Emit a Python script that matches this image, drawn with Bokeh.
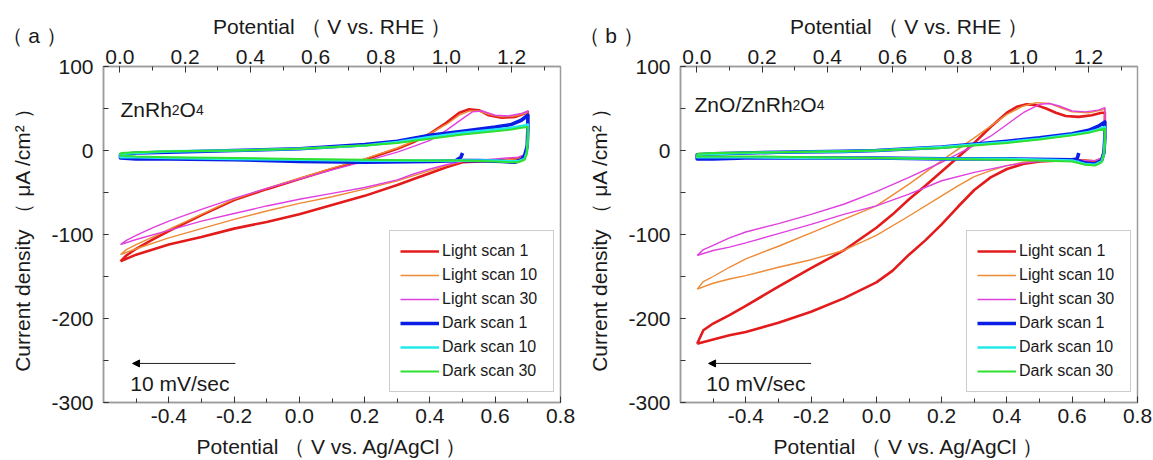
from bokeh.plotting import figure
from bokeh.models import (Range1d, LinearAxis, SingleIntervalTicker, PrintfTickFormatter,
                          Legend, LegendItem, Label, Arrow, NormalHead)
from bokeh.layouts import row
from bokeh.embed import file_html
from bokeh.resources import INLINE

# ---------------- data ----------------
SERIES = ["Light scan 1", "Light scan 10", "Light scan 30",
          "Dark scan 1", "Dark scan 10", "Dark scan 30"]

X_TICK_LABELS_AGCL = [-0.6, -0.4, -0.2, 0.0, 0.2, 0.4, 0.6, 0.8]
X_TICK_LABELS_RHE = [0.0, 0.2, 0.4, 0.6, 0.8, 1.0, 1.2]
Y_TICK_LABELS = [-300, -200, -100, 0, 100]

# ----- panel (a) ZnRh2O4 -----
a_l1_x = [-0.548, -0.53, -0.50, -0.45, -0.40, -0.30, -0.20, -0.10, 0.00, 0.10, 0.20, 0.30, 0.35, 0.40, 0.45,
          0.49, 0.52, 0.55, 0.58, 0.62, 0.66, 0.69, 0.70,
          0.700, 0.698, 0.69, 0.67, 0.60, 0.50, 0.45, 0.40, 0.35, 0.30, 0.20, 0.10, 0.00, -0.10, -0.20,
          -0.30, -0.40, -0.50, -0.548]
a_l1_y = [-132, -125, -117, -106, -96, -77, -59, -46, -34, -22, -11, 2, 10, 20, 33, 45, 49, 48, 42, 39, 40, 44, 46,
          30, 5, -6, -10, -12, -14, -20, -27, -34, -41, -54, -65, -76, -85, -93, -103, -112, -124, -132]

a_l10_x = [-0.548, -0.53, -0.50, -0.45, -0.40, -0.30, -0.20, -0.10, 0.00, 0.10, 0.20, 0.30, 0.35, 0.40, 0.45,
           0.49, 0.52, 0.55, 0.58, 0.62, 0.66, 0.69, 0.70,
           0.700, 0.698, 0.69, 0.67, 0.60, 0.50, 0.45, 0.40, 0.35, 0.30, 0.20, 0.10, 0.00, -0.10, -0.20,
           -0.30, -0.40, -0.50, -0.548]
a_l10_y = [-124, -118, -112, -103, -94, -76, -58, -45, -33, -21, -10, 3, 11, 20, 31, 42, 47, 47, 43, 40, 41, 44, 45,
           28, 3, -7, -10, -12, -13, -18, -24, -30, -36, -46, -55, -63, -72, -82, -93, -104, -117, -124]

a_l30_x = [-0.548, -0.53, -0.50, -0.45, -0.40, -0.30, -0.20, -0.10, 0.00, 0.10, 0.20, 0.30, 0.35, 0.40, 0.45,
           0.50, 0.53, 0.56, 0.60, 0.64, 0.68, 0.70,
           0.700, 0.698, 0.69, 0.67, 0.60, 0.50, 0.45, 0.40, 0.35, 0.30, 0.20, 0.10, 0.00, -0.10, -0.20,
           -0.30, -0.40, -0.50, -0.548]
a_l30_y = [-112, -107, -101, -92, -84, -70, -57, -45, -34, -23, -13, -2, 5, 12, 24, 38, 46, 47, 42, 41, 44, 47,
           30, 5, -5, -8, -10, -13, -17, -22, -28, -35, -44, -51, -58, -66, -75, -84, -95, -106, -112]

a_d1_x = [0.500, 0.495, 0.48, 0.40, 0.20, 0.00, -0.20, -0.40, -0.50, -0.548,
          -0.548, -0.50, -0.40, -0.20, 0.00, 0.20, 0.30, 0.40, 0.50, 0.60, 0.65, 0.68, 0.70,
          0.700, 0.698, 0.69, 0.68, 0.66, 0.62, 0.55, 0.50]
a_d1_y = [-3, -8, -12, -13, -14, -13, -11, -10, -10, -9,
          -5, -3, -2, 0, 2, 7, 11, 18, 23, 28, 31, 36, 42,
          25, 5, -6, -11, -14, -13, -12, -12]

a_d10_x = [-0.548, -0.50, -0.40, -0.20, 0.00, 0.20, 0.30, 0.40, 0.50, 0.60, 0.65, 0.68, 0.70,
           0.700, 0.697, 0.69, 0.67, 0.64, 0.60, 0.50, 0.40, 0.20, 0.00, -0.20, -0.40, -0.50, -0.548, -0.548]
a_d10_y = [-4, -3, -1, 0, 2, 6, 10, 16, 21, 25, 27, 29, 31,
           15, -2, -10, -13, -13, -12, -12, -12, -12, -11, -10, -9, -8, -8, -4]

a_d30_x = [-0.548, -0.50, -0.40, -0.20, 0.00, 0.20, 0.30, 0.40, 0.50, 0.60, 0.65, 0.68, 0.70,
           0.700, 0.697, 0.69, 0.67, 0.64, 0.60, 0.50, 0.40, 0.20, 0.00, -0.20, -0.40, -0.50, -0.548, -0.548]
a_d30_y = [-3, -2, -1, 0, 2, 6, 9, 14, 19, 23, 25, 27, 28,
           12, -4, -11, -14, -14, -13, -12, -12, -11, -10, -9, -8, -7, -6, -3]

# ----- panel (b) ZnO/ZnRh2O4 -----
b_l1_x = [-0.549, -0.53, -0.50, -0.45, -0.40, -0.30, -0.20, -0.10, 0.00, 0.05, 0.10, 0.15, 0.20, 0.25, 0.30,
          0.35, 0.40, 0.43, 0.46, 0.49, 0.52, 0.55, 0.58, 0.62, 0.66, 0.69, 0.70,
          0.700, 0.698, 0.69, 0.67, 0.64, 0.60, 0.55, 0.50, 0.45, 0.40, 0.35, 0.30, 0.25, 0.20, 0.15, 0.10,
          0.05, 0.00, -0.10, -0.20, -0.30, -0.40, -0.45, -0.50, -0.549]
b_l1_y = [-230, -214, -206, -196, -185, -162, -140, -119, -92, -76, -58, -42, -25, -8, 9,
          28, 45, 52, 55, 54, 50, 45, 41, 40, 42, 45, 45,
          30, 0, -10, -13, -12, -12, -12, -13, -16, -22, -32, -47, -67, -88, -107, -124,
          -143, -157, -176, -192, -205, -216, -220, -225, -230]

b_l10_x = [-0.549, -0.53, -0.50, -0.45, -0.40, -0.30, -0.20, -0.10, 0.00, 0.10, 0.20, 0.30, 0.35, 0.40, 0.45,
           0.49, 0.53, 0.57, 0.60, 0.65, 0.70,
           0.700, 0.698, 0.69, 0.67, 0.60, 0.50, 0.45, 0.40, 0.35, 0.30, 0.25, 0.20, 0.10, 0.00, -0.10,
           -0.20, -0.30, -0.40, -0.45, -0.50, -0.549]
b_l10_y = [-165, -156, -150, -139, -129, -114, -98, -82, -66, -40, -12, 15, 29, 43, 53, 57, 56, 50, 46, 45, 49,
           30, 0, -9, -12, -12, -12, -14, -18, -24, -31, -42, -54, -78, -101, -119,
           -130, -139, -149, -153, -158, -165]

b_l30_x = [-0.549, -0.53, -0.50, -0.45, -0.40, -0.30, -0.20, -0.10, 0.00, 0.10, 0.20, 0.30, 0.35, 0.40, 0.45,
           0.50, 0.53, 0.56, 0.60, 0.64, 0.68, 0.70,
           0.700, 0.698, 0.69, 0.67, 0.60, 0.50, 0.45, 0.40, 0.30, 0.20, 0.10, 0.00, -0.10, -0.20, -0.30,
           -0.40, -0.45, -0.50, -0.549]
b_l30_y = [-125, -118, -113, -104, -97, -87, -76, -64, -49, -32, -14, 6, 17, 31, 45, 55, 56, 53, 47, 46, 48, 51,
           30, 0, -9, -12, -12, -13, -15, -18, -26, -36, -52, -66, -76, -88, -99, -110, -115, -119, -125]

b_d1_x = [0.620, 0.615, 0.60, 0.40, 0.20, 0.00, -0.20, -0.40, -0.50, -0.549,
          -0.549, -0.50, -0.30, -0.10, 0.00, 0.20, 0.40, 0.50, 0.60, 0.65, 0.68, 0.70,
          0.700, 0.697, 0.69, 0.67, 0.64, 0.62]
b_d1_y = [-3, -10, -11, -10, -10, -9, -9, -9, -10, -10,
          -5, -4, -2, -1, 0, 4, 11, 15, 20, 24, 29, 34,
          15, -3, -12, -16, -15, -12]

b_d10_x = [-0.549, -0.50, -0.30, -0.10, 0.00, 0.20, 0.40, 0.50, 0.60, 0.65, 0.68, 0.70,
           0.700, 0.697, 0.69, 0.67, 0.64, 0.60, 0.40, 0.20, 0.00, -0.20, -0.40, -0.50, -0.549, -0.549]
b_d10_y = [-5, -4, -2, -1, 0, 4, 10, 14, 19, 22, 25, 28,
           12, -4, -13, -17, -16, -12, -10, -10, -9, -9, -8, -8, -8, -5]

b_d30_x = [-0.549, -0.50, -0.30, -0.10, 0.00, 0.20, 0.40, 0.50, 0.60, 0.65, 0.68, 0.70,
           0.700, 0.697, 0.69, 0.67, 0.64, 0.60, 0.40, 0.20, 0.00, -0.20, -0.40, -0.50, -0.549, -0.549]
b_d30_y = [-4, -3, -2, -1, 0, 3, 9, 13, 18, 21, 24, 26,
           10, -5, -14, -18, -17, -13, -11, -10, -9, -8, -7, -7, -7, -4]

# ---------------- style ----------------
COLORS = ["#e31b1b", "#ef8a34", "#e040e0", "#0a1ee6", "#22eaea", "#30e030"]
WIDTHS = [2.6, 1.4, 1.4, 3.6, 2.6, 2.0]
FONT = "Liberation Sans"
FRAME_GRAY = "#9c9c9c"
TICK = "#333333"
TXT = "#1a1a1a"
RHE_OFFSET = 0.55
X0, X1, Y0, Y1 = -0.6, 0.8, -300, 100
PPX = 457 / 1.4      # frame pixels per volt
PPY = 336 / 400.0    # frame pixels per uA/cm2


def style_axis(ax, interval, fmt, tick_in, minor_in, std, lstd):
    ax.ticker = SingleIntervalTicker(interval=interval, num_minor_ticks=2)
    ax.formatter = PrintfTickFormatter(format=fmt)
    ax.major_tick_in = tick_in
    ax.major_tick_out = 0
    ax.minor_tick_in = minor_in
    ax.minor_tick_out = 0
    ax.major_tick_line_color = TICK
    ax.minor_tick_line_color = TICK
    ax.axis_line_color = FRAME_GRAY
    ax.axis_line_width = 1.5
    ax.major_label_text_font = FONT
    ax.major_label_text_font_size = "21px"
    ax.major_label_text_color = TXT
    ax.major_label_standoff = std
    ax.axis_label_text_font = FONT
    ax.axis_label_text_font_size = "21px"
    ax.axis_label_text_font_style = "normal"
    ax.axis_label_text_color = TXT
    ax.axis_label_standoff = lstd


ADV = {"Z": .611, "n": .556, "R": .722, "h": .556, "O": .778, "/": .278, "2": .556, "4": .556}


def piece_width(s, size):
    return sum(ADV.get(ch, .556) for ch in s) * size


def build(curves, tag, formula_main, formula_x, formula_y, arrow_x0, arrow_x1, speed_x, width, bright):
    p = figure(width=width, height=460, output_backend="svg", toolbar_location=None,
               x_range=Range1d(X0, X1), y_range=Range1d(Y0, Y1),
               min_border_left=103, min_border_right=bright, min_border_top=66, min_border_bottom=58,
               x_axis_label="Potential （ V vs. Ag/AgCl ）",
               y_axis_label="Current density （ μA /cm² ）")
    p.grid.visible = False
    p.outline_line_color = FRAME_GRAY
    p.outline_line_width = 1.5
    p.background_fill_color = "white"
    p.border_fill_color = "white"

    style_axis(p.xaxis[0], 0.2, "%.1f", 6, 4, 6, 9)
    style_axis(p.yaxis[0], 100, "%d", 5, 5, 10, 14)

    p.extra_x_ranges = {"rhe": Range1d(X0 + RHE_OFFSET, X1 + RHE_OFFSET)}
    top = LinearAxis(x_range_name="rhe")
    style_axis(top, 0.2, "%.1f", 6, 4, 3, 0)
    p.add_layout(top, "above")

    # top-axis title and panel tag live in the top side panel (not clipped by the frame)
    p.add_layout(Label(x=(X0 + X1) / 2, y=Y1 + (66 - 26) / PPY, text="Potential （ V vs. RHE ）",
                       text_font=FONT, text_font_size="21px", text_color=TXT,
                       text_align="center", text_baseline="middle"), "above")
    p.add_layout(Label(x=X0 + (1 - 103) / PPX, y=Y1 + (66 - 35) / PPY, text=tag,
                       text_font=FONT, text_font_size="21px", text_color=TXT,
                       text_align="left", text_baseline="middle"), "above")

    items = []
    for (xs, ys), name, c, w in zip(curves, SERIES, COLORS, WIDTHS):
        r = p.line(xs, ys, line_color=c, line_width=w, line_join="round")
        items.append(LegendItem(label=name, renderers=[r]))

    leg = Legend(items=items, location=(286, 10), margin=0, padding=10, spacing=4,
                 label_height=20, glyph_height=20, glyph_width=39, label_standoff=3,
                 label_width=101, label_text_font=FONT, label_text_font_size="16px",
                 label_text_color=TXT, border_line_color=FRAME_GRAY, border_line_width=1,
                 background_fill_color="white", background_fill_alpha=1.0)
    p.add_layout(leg)

    # formula with small (subscript-size) digits
    offs = 0.0
    for piece, small in formula_main:
        size = 14 if small else 21
        p.add_layout(Label(x=formula_x, y=formula_y, x_offset=offs, text=piece, text_font=FONT,
                           text_font_size=f"{size}px", text_color=TXT, text_baseline="alphabetic"))
        offs += piece_width(piece, size)

    # scan-direction arrow and rate
    p.add_layout(Arrow(end=NormalHead(size=7, fill_color="black", line_color="black"),
                       x_start=arrow_x0, y_start=-253.5, x_end=arrow_x1, y_end=-253.5,
                       line_color="#222222", line_width=1))
    p.add_layout(Label(x=speed_x, y=-277, text="10 mV/sec", text_font=FONT, text_font_size="21px",
                       text_color=TXT, text_baseline="middle", text_align="left"))
    return p


pa = build([(a_l1_x, a_l1_y), (a_l10_x, a_l10_y), (a_l30_x, a_l30_y),
            (a_d1_x, a_d1_y), (a_d10_x, a_d10_y), (a_d30_x, a_d30_y)],
           "（ a ）", [("ZnRh", False), ("2", True), ("O", False), ("4", True)],
           -0.548, 48.8, -0.196, -0.511, -0.518, 577, 17)
pb = build([(b_l1_x, b_l1_y), (b_l10_x, b_l10_y), (b_l30_x, b_l30_y),
            (b_d1_x, b_d1_y), (b_d10_x, b_d10_y), (b_d30_x, b_d30_y)],
           "（ b ）", [("ZnO/ZnRh", False), ("2", True), ("O", False), ("4", True)],
           -0.557, 54.5, -0.200, -0.514, -0.521, 576, 16)

layout = row(pa, pb)
open("out.html", "w").write(file_html(layout, INLINE))
